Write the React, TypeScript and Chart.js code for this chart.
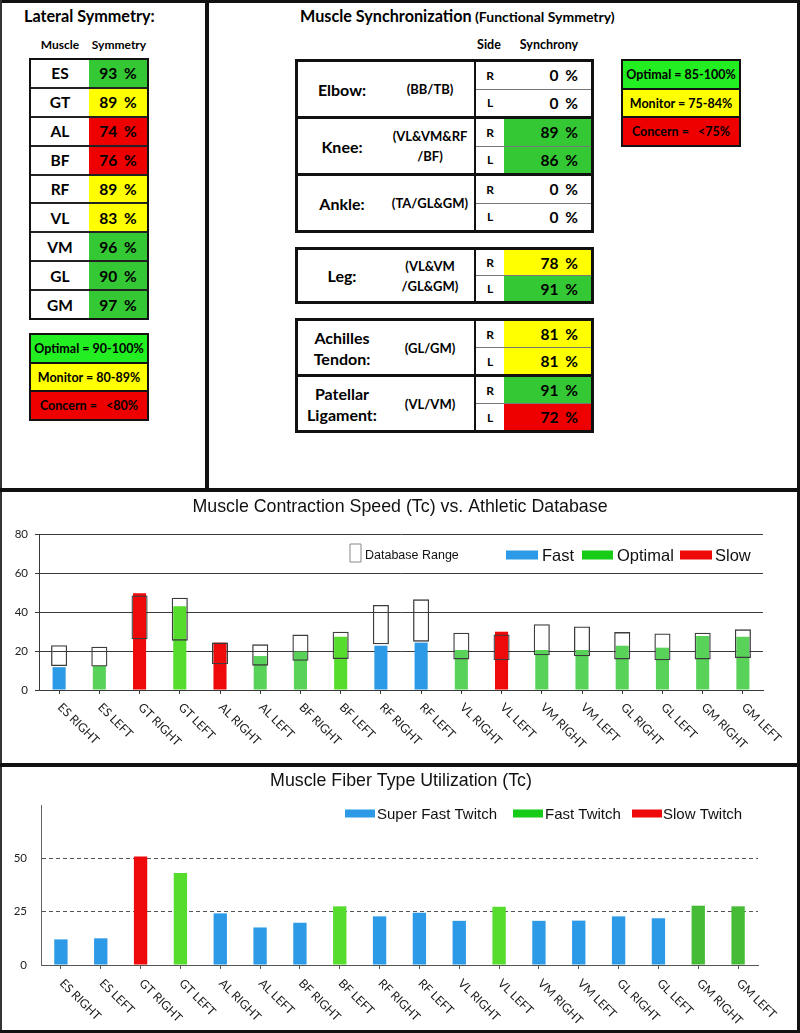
import React, { useEffect, useRef } from 'react';
import { Chart, registerables } from 'chart.js';

Chart.register(...registerables);

// ---------------- data ----------------
const symMuscles = ['ES', 'GT', 'AL', 'BF', 'RF', 'VL', 'VM', 'GL', 'GM'];
const symValues = [93, 89, 74, 76, 89, 83, 96, 90, 97];
const symLegend = ['Optimal = 90-100%', 'Monitor = 80-89%', 'Concern =   <80%'];

const syncJoints = ['Elbow:', 'Knee:', 'Ankle:', 'Leg:', 'Achilles\nTendon:', 'Patellar\nLigament:'];
const syncMuscles = ['(BB/TB)', '(VL&VM&RF\n/BF)', '(TA/GL&GM)', '(VL&VM\n/GL&GM)', '(GL/GM)', '(VL/VM)'];
const syncRight = [0, 89, 0, 78, 81, 91];
const syncLeft = [0, 86, 0, 91, 81, 72];
const syncLegend = ['Optimal = 85-100%', 'Monitor = 75-84%', 'Concern =   <75%'];

const tcLabels = ['ES RIGHT', 'ES LEFT', 'GT RIGHT', 'GT LEFT', 'AL RIGHT', 'AL LEFT', 'BF RIGHT', 'BF LEFT', 'RF RIGHT', 'RF LEFT', 'VL RIGHT', 'VL LEFT', 'VM RIGHT', 'VM LEFT', 'GL RIGHT', 'GL LEFT', 'GM RIGHT', 'GM LEFT'];
const tcValues = [11.7, 12.3, 49.6, 43.0, 24.3, 17.4, 19.7, 27.3, 22.7, 24.3, 20.5, 29.9, 20.5, 20.5, 22.7, 21.7, 27.7, 27.3];
const dbLow = [12.3, 12.0, 26.0, 25.3, 13.2, 12.5, 15.0, 15.9, 23.4, 24.8, 15.7, 15.2, 17.8, 17.3, 15.7, 15.2, 15.7, 16.4];
const dbHigh = [23.0, 22.2, 48.5, 47.3, 24.3, 23.4, 28.4, 29.9, 43.6, 46.5, 29.4, 28.5, 33.7, 32.6, 29.7, 29.0, 29.4, 31.1];
const tcStatus = ['Fast', 'Optimal', 'Slow', 'Optimal', 'Slow', 'Optimal', 'Optimal', 'Optimal', 'Fast', 'Fast', 'Optimal', 'Slow', 'Optimal', 'Optimal', 'Optimal', 'Optimal', 'Optimal', 'Optimal'];
const tcSeries = ['Fast', 'Optimal', 'Slow'];

const fiberValues = [12.0, 12.5, 50.9, 43.1, 24.2, 17.6, 19.8, 27.5, 22.8, 24.5, 20.7, 27.3, 20.7, 20.8, 22.8, 21.9, 27.8, 27.5];
const fiberType = ['Super Fast Twitch', 'Super Fast Twitch', 'Slow Twitch', 'Fast Twitch', 'Super Fast Twitch', 'Super Fast Twitch', 'Super Fast Twitch', 'Fast Twitch', 'Super Fast Twitch', 'Super Fast Twitch', 'Super Fast Twitch', 'Fast Twitch', 'Super Fast Twitch', 'Super Fast Twitch', 'Super Fast Twitch', 'Super Fast Twitch', 'Fast Twitch', 'Fast Twitch'];
const fiberSeries = ['Super Fast Twitch', 'Fast Twitch', 'Slow Twitch'];

// ---------------- styles ----------------
const BLUE = '#2c9ae6';
const RED = '#ee0a0a';
const GREEN = '#58d258';
const LIME = '#56dc2c';
const DKGREEN = '#46bb36';
const LEG_GREEN = '#16cc16';
const T_GREEN = '#35c835';
const T_YELLOW = '#ffff00';
const T_RED = '#ee0000';
const L_GREEN = '#22ee22';
const LAT = 'Lato, "Noto Sans", sans-serif';
const ARIAL = '"Liberation Sans", Arial, sans-serif';

const symColor = (v: number) => (v >= 90 ? T_GREEN : v >= 80 ? T_YELLOW : T_RED);
const syncColor = (v: number) => (v === 0 ? '#fff' : v >= 85 ? T_GREEN : v >= 75 ? T_YELLOW : T_RED);

type LegendItem = { text: string; x: number; y: number; w: number; h: number; fill?: string; stroke?: string; tx: number; ty: number; font: string };
type DecorCfg = { title: string; titleFont: string; titleX: number; titleY: number; labelFont: string; labelDx: number; labelDy: number; legend: LegendItem[] };

const makeDecor = (cfg: DecorCfg) => ({
  id: 'decor',
  afterDraw(chart: any) {
    const { ctx, chartArea, scales } = chart;
    ctx.save();
    ctx.fillStyle = '#111';
    ctx.font = cfg.titleFont;
    ctx.textAlign = 'center';
    ctx.textBaseline = 'alphabetic';
    ctx.fillText(cfg.title, cfg.titleX, cfg.titleY);
    ctx.font = cfg.labelFont;
    ctx.textAlign = 'left';
    ctx.fillStyle = '#1a1a1a';
    (chart.data.labels as string[]).forEach((lab, i) => {
      const x = scales.x.getPixelForValue(i);
      ctx.save();
      ctx.translate(x + cfg.labelDx, chartArea.bottom + cfg.labelDy);
      ctx.rotate(Math.PI / 4);
      ctx.fillText(lab, 0, 0);
      ctx.restore();
    });
    for (const it of cfg.legend) {
      ctx.fillStyle = it.fill || '#ffffff';
      ctx.fillRect(it.x, it.y, it.w, it.h);
      if (it.stroke) {
        ctx.beginPath();
        ctx.setLineDash([]);
        ctx.strokeStyle = it.stroke;
        ctx.lineWidth = 1;
        ctx.rect(it.x + 0.5, it.y + 0.5, it.w, it.h);
        ctx.stroke();
      }
      ctx.fillStyle = '#111';
      ctx.font = it.font;
      ctx.textAlign = 'left';
      ctx.fillText(it.text, it.tx, it.ty);
    }
    ctx.restore();
  },
});

function TcChart() {
  const ref = useRef<HTMLCanvasElement>(null);
  useEffect(() => {
    const seriesColor = (name: string, i: number) =>
      name === 'Fast' ? BLUE : name === 'Slow' ? RED : i === 3 || i === 7 ? LIME : GREEN;
    const decor = makeDecor({
      title: 'Muscle Contraction Speed (Tc) vs. Athletic Database',
      titleFont: `17.8px ${ARIAL}`,
      titleX: 400,
      titleY: 19,
      labelFont: `12px ${LAT}`,
      labelDx: -2,
      labelDy: 18,
      legend: [
        { text: 'Database Range', x: 349.5, y: 50.5, w: 11, h: 18, stroke: '#888', tx: 365, ty: 66, font: `12.5px ${ARIAL}` },
        { text: 'Fast', x: 506, y: 57.5, w: 32, h: 9, fill: BLUE, tx: 542, ty: 68, font: `16.5px ${ARIAL}` },
        { text: 'Optimal', x: 582, y: 57.5, w: 31, h: 9, fill: LEG_GREEN, tx: 617, ty: 68, font: `16.5px ${ARIAL}` },
        { text: 'Slow', x: 680, y: 57.5, w: 32, h: 9, fill: RED, tx: 715, ty: 68, font: `16.5px ${ARIAL}` },
      ],
    });
    const chart = new Chart(ref.current as HTMLCanvasElement, {
      type: 'bar',
      data: {
        labels: tcLabels,
        datasets: [
          {
            label: 'Database Range',
            data: dbLow.map((l, i) => [l, dbHigh[i]]) as any,
            backgroundColor: 'rgba(255,255,255,0)',
            borderColor: '#3c3c3c',
            borderWidth: 1.3,
            borderSkipped: false,
            grouped: false,
            barPercentage: 0.4,
            categoryPercentage: 1,
          } as any,
          ...tcSeries.map((name) => ({
            label: name,
            data: tcValues.map((v, i) => (tcStatus[i] === name ? v : null)),
            backgroundColor: tcValues.map((_, i) => seriesColor(name, i)),
            borderWidth: 0,
            grouped: false,
            barPercentage: 0.325,
            categoryPercentage: 1,
          })),
        ],
      },
      options: {
        animation: false,
        responsive: false,
        layout: { padding: { top: 41, right: 37, bottom: 73, left: 0 } },
        plugins: {
          legend: { display: false },
          title: { display: false },
          tooltip: { enabled: false },
        },
        scales: {
          x: {
            ticks: { display: false },
            grid: { drawOnChartArea: false, drawTicks: true, tickLength: 4, offset: false, color: '#3a3a3a' },
            border: { display: true, color: '#3a3a3a' },
            afterFit: (s: any) => {
              s.height = 0;
            },
          },
          y: {
            min: 0,
            max: 80,
            ticks: { stepSize: 20, padding: 7, color: '#222', font: { family: LAT, size: 11.5 } },
            grid: { color: '#3a3a3a', lineWidth: 1, drawTicks: true, tickLength: 4 },
            border: { display: true, color: '#3a3a3a' },
            afterFit: (s: any) => {
              s.width = 39;
            },
          },
        } as any,
      },
      plugins: [decor],
    });
    return () => chart.destroy();
  }, []);
  return <canvas ref={ref} width={800} height={270} style={{ position: 'absolute', left: 0, top: 493, display: 'block' }} />;
}

function FiberChart() {
  const ref = useRef<HTMLCanvasElement>(null);
  useEffect(() => {
    const seriesColor = (name: string, i: number) =>
      name === 'Super Fast Twitch' ? BLUE : name === 'Slow Twitch' ? RED : i >= 16 ? DKGREEN : LIME;
    const decor = makeDecor({
      title: 'Muscle Fiber Type Utilization (Tc)',
      titleFont: `17.8px ${ARIAL}`,
      titleX: 401,
      titleY: 19,
      labelFont: `12px ${LAT}`,
      labelDx: -2,
      labelDy: 19,
      legend: [
        { text: 'Super Fast Twitch', x: 345, y: 42.5, w: 30, h: 8, fill: BLUE, tx: 377, ty: 52, font: `15px ${ARIAL}` },
        { text: 'Fast Twitch', x: 513, y: 42.5, w: 30, h: 8, fill: LEG_GREEN, tx: 545, ty: 52, font: `15px ${ARIAL}` },
        { text: 'Slow Twitch', x: 632, y: 42.5, w: 30, h: 8, fill: RED, tx: 663, ty: 52, font: `15px ${ARIAL}` },
      ],
    });
    const chart = new Chart(ref.current as HTMLCanvasElement, {
      type: 'bar',
      data: {
        labels: tcLabels,
        datasets: fiberSeries.map((name) => ({
          label: name,
          data: fiberValues.map((v, i) => (fiberType[i] === name ? v : null)),
          backgroundColor: fiberValues.map((_, i) => seriesColor(name, i)),
          borderWidth: 0,
          grouped: false,
          barPercentage: 0.335,
          categoryPercentage: 1,
        })) as any,
      },
      options: {
        animation: false,
        responsive: false,
        layout: { padding: { top: 38, right: 42, bottom: 65, left: 0 } },
        plugins: {
          legend: { display: false },
          title: { display: false },
          tooltip: { enabled: false },
        },
        scales: {
          x: {
            ticks: { display: false },
            grid: { drawOnChartArea: false, drawTicks: true, tickLength: 4, offset: false, color: '#555' },
            border: { display: true, color: '#555' },
            afterFit: (s: any) => {
              s.height = 0;
            },
          },
          y: {
            min: 0,
            max: 75,
            ticks: {
              stepSize: 25,
              padding: 14,
              color: '#222',
              font: { family: LAT, size: 11.5 },
              callback: (v: any) => (v === 75 ? '' : v),
            },
            grid: {
              drawTicks: false,
              lineWidth: 1,
              color: (c: any) => (c.tick && (c.tick.value === 25 || c.tick.value === 50) ? '#555' : 'rgba(0,0,0,0)'),
            },
            border: { display: true, color: '#666', dash: [4, 3] },
            afterFit: (s: any) => {
              s.width = 41;
            },
          },
        } as any,
      },
      plugins: [decor],
    });
    return () => chart.destroy();
  }, []);
  return <canvas ref={ref} width={800} height={263} style={{ position: 'absolute', left: 0, top: 767, display: 'block' }} />;
}

const center: React.CSSProperties = { display: 'flex', alignItems: 'center', justifyContent: 'center', textAlign: 'center' };

function LegendBox({ left, top, items }: { left: number; top: number; items: string[] }) {
  const colors = [L_GREEN, T_YELLOW, T_RED];
  return (
    <div style={{ position: 'absolute', left, top, width: 120, height: 88, border: '2px solid #111', boxSizing: 'border-box', display: 'flex', flexDirection: 'column' }}>
      {items.map((t, i) => (
        <div key={t} style={{ ...center, flex: 1, background: colors[i], borderTop: i ? '2px solid #111' : 'none', fontSize: 12.5, fontWeight: 700, whiteSpace: 'pre' }}>
          {t}
        </div>
      ))}
    </div>
  );
}

function SyncGroup({ top, idx, rowH }: { top: number; idx: number[]; rowH: number }) {
  return (
    <div style={{ position: 'absolute', left: 295, top, width: 299, border: '3px solid #111', boxSizing: 'border-box', background: '#fff' }}>
      {idx.map((k, j) => (
        <div key={k} style={{ display: 'flex', height: rowH, borderTop: j ? '3px solid #111' : 'none' }}>
          <div style={{ ...center, width: 88, fontSize: 16, fontWeight: 700, whiteSpace: 'pre-line', lineHeight: '21px' }}>{syncJoints[k]}</div>
          <div style={{ ...center, width: 88, fontSize: 13, fontWeight: 700, whiteSpace: 'pre-line', lineHeight: '20px' }}>{syncMuscles[k]}</div>
          <div style={{ width: 28, borderLeft: '2px solid #111', display: 'flex', flexDirection: 'column' }}>
            <div style={{ ...center, flex: 1, borderBottom: '1px solid #777', fontSize: 12, fontWeight: 700 }}>R</div>
            <div style={{ ...center, flex: 1, fontSize: 12, fontWeight: 700 }}>L</div>
          </div>
          <div style={{ flex: 1, display: 'flex', flexDirection: 'column' }}>
            <div style={{ flex: 1, display: 'flex', alignItems: 'center', justifyContent: 'flex-end', paddingRight: 13, background: syncColor(syncRight[k]), borderBottom: '1px solid #777', fontSize: 15.5, fontWeight: 700, wordSpacing: 3 }}>
              {syncRight[k]} %
            </div>
            <div style={{ flex: 1, display: 'flex', alignItems: 'center', justifyContent: 'flex-end', paddingRight: 13, background: syncColor(syncLeft[k]), fontSize: 15.5, fontWeight: 700, wordSpacing: 3 }}>
              {syncLeft[k]} %
            </div>
          </div>
        </div>
      ))}
    </div>
  );
}

export default function App() {
  useEffect(() => {
    document.body.style.margin = '0';
  }, []);
  const bar = (l: number, t: number, w: number, h: number, c = '#111') => (
    <div style={{ position: 'absolute', left: l, top: t, width: w, height: h, background: c }} />
  );
  return (
    <div style={{ position: 'relative', width: 800, height: 1033, background: '#fff', overflow: 'hidden', fontFamily: LAT, color: '#000' }}>
      <style>{'body{margin:0}'}</style>

      {/* Lateral symmetry panel */}
      <div style={{ position: 'absolute', left: 24, top: 5, height: 22, lineHeight: '22px', fontSize: 16.2, fontWeight: 700, whiteSpace: 'nowrap' }}>Lateral Symmetry:</div>
      <div style={{ position: 'absolute', left: 30, width: 60, top: 37, height: 16, lineHeight: '16px', fontSize: 12, fontWeight: 700, textAlign: 'center' }}>Muscle</div>
      <div style={{ position: 'absolute', left: 89, width: 60, top: 37, height: 16, lineHeight: '16px', fontSize: 12, fontWeight: 700, textAlign: 'center' }}>Symmetry</div>
      <div style={{ position: 'absolute', left: 29, top: 58, width: 120, height: 262, border: '2px solid #111', boxSizing: 'border-box', display: 'flex', flexDirection: 'column' }}>
        {symMuscles.map((m, i) => (
          <div key={m} style={{ flex: 1, display: 'flex', borderTop: i ? '2px solid #222' : 'none' }}>
            <div style={{ ...center, width: 58, background: '#fff', fontSize: 15.5, fontWeight: 700 }}>{m}</div>
            <div style={{ ...center, flex: 1, background: symColor(symValues[i]), fontSize: 15.5, fontWeight: 700, wordSpacing: 3 }}>{symValues[i]} %</div>
          </div>
        ))}
      </div>
      <LegendBox left={29} top={333} items={symLegend} />

      {/* Muscle synchronization panel */}
      <div style={{ position: 'absolute', left: 300, top: 5, height: 22, lineHeight: '22px', fontWeight: 700, whiteSpace: 'nowrap' }}>
        <span style={{ fontSize: 16.2 }}>Muscle Synchronization</span>
        <span style={{ fontSize: 14 }}> (Functional Symmetry)</span>
      </div>
      <div style={{ position: 'absolute', left: 474, width: 30, top: 37, height: 16, lineHeight: '16px', fontSize: 12.5, fontWeight: 700, textAlign: 'center' }}>Side</div>
      <div style={{ position: 'absolute', left: 509, width: 80, top: 37, height: 16, lineHeight: '16px', fontSize: 12.5, fontWeight: 700, textAlign: 'center' }}>Synchrony</div>
      <SyncGroup top={59} idx={[0, 1, 2]} rowH={54} />
      <SyncGroup top={247} idx={[3]} rowH={51} />
      <SyncGroup top={318} idx={[4, 5]} rowH={53} />
      <LegendBox left={621} top={59} items={syncLegend} />

      <TcChart />
      <FiberChart />

      {/* frame */}
      {bar(0, 0, 800, 3)}
      {bar(0, 0, 2, 1033, '#333')}
      {bar(797, 0, 3, 1033)}
      {bar(205, 0, 4, 490)}
      {bar(0, 488, 800, 4)}
      {bar(0, 763, 800, 4)}
      {bar(0, 1030, 800, 3)}
    </div>
  );
}
